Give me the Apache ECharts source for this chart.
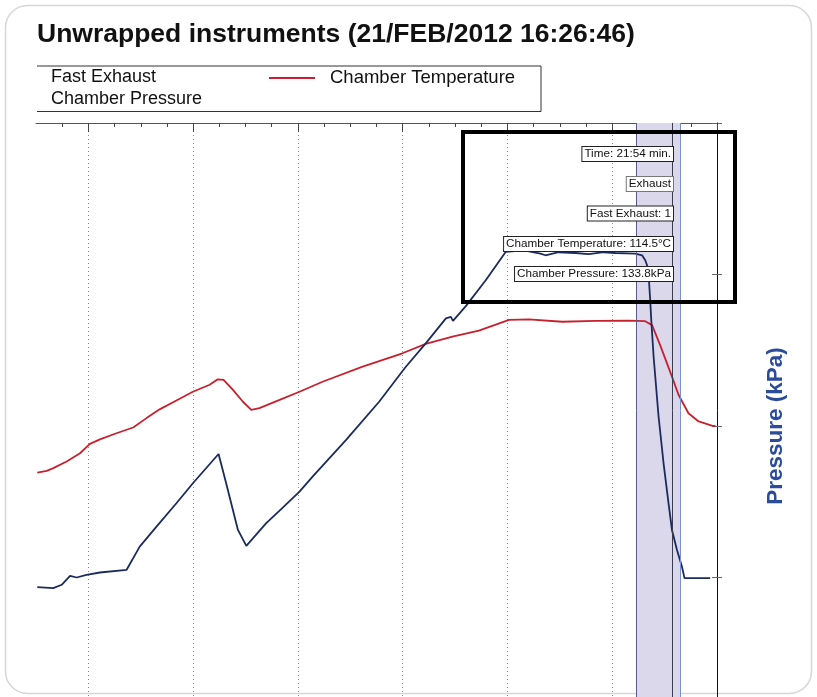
<!DOCTYPE html>
<html><head><meta charset="utf-8">
<script src="https://cdn.jsdelivr.net/npm/echarts@6/dist/echarts.min.js"></script>
<style>html,body{margin:0;padding:0;background:#fff}#c{width:817px;height:697px}</style>
</head><body><div id="c"></div>
<script>
// ---- data ----
const titleText = 'Unwrapped instruments (21/FEB/2012 16:26:46)';
const nameFast = 'Fast Exhaust';
const nameTemp = 'Chamber Temperature';
const namePress = 'Chamber Pressure';

// elapsed time units on the (unlabelled) time axis
const pressureTime = [0.05,0.66,0.98,1.30,1.55,1.93,2.44,3.46,3.96,4.60,5.36,5.99,6.97,7.26,7.71,8.03,8.79,9.30,10.06,10.56,11.84,13.10,14.12,14.88,15.65,15.84,15.92,16.41,17.17,17.93,18.63,19.26,19.45,19.96,20.60,21.10,21.68,22.12,22.88,23.14,23.26,23.33,23.39,23.45,23.49,23.58,23.77,23.96,24.15,24.28,24.47,24.66,24.76,25.74];
const pressureKPa = [93.7,93.0,95.2,101.1,100.0,101.8,103.3,105.1,120.4,133.6,149.0,162.2,181.5,162.2,131.4,120.9,135.9,144.2,156.7,166.6,190.8,216.0,239.1,254.5,271.0,272.0,269.4,279.1,296.2,314.9,316.0,313.8,312.7,314.7,314.2,313.4,314.7,314.2,313.8,312.7,309.4,306.1,299.5,283.1,269.9,245.7,206.1,175.4,149.0,131.4,118.3,107.3,99.6,99.6];

const temperatureTime = [0.05,0.41,0.66,1.17,1.68,2.06,2.44,3.07,3.71,4.22,4.72,5.36,5.99,6.63,6.94,7.16,7.52,7.90,8.22,8.53,9.30,10.06,10.94,12.47,13.99,14.88,15.90,16.91,18.06,18.82,20.09,21.36,22.63,23.26,23.52,23.83,24.28,24.53,24.91,25.30,25.80,25.94];
const temperatureC = [84.6,85.2,86.1,88.3,91.0,94.1,95.6,97.6,99.5,102.6,105.5,108.4,111.3,113.6,115.4,115.2,111.9,108.0,105.3,105.9,108.6,111.3,114.6,119.6,124.0,127.1,129.5,131.5,135.0,135.2,134.4,134.7,134.8,134.6,133.3,126.7,116.3,110.3,104.2,101.5,100.1,100.0];

const majorTicks = [2,6,10,14,18,22,26];
const minorTicks = [1,3,4,5,7,8,9,11,12,13,15,16,17,19,20,21,23,24,25];

const exhaustStart = 22.93;
const cursorTime = 24.30;
const fastExhaustEnd = 24.61;

const cursorTimeText = '21:54';
const cursorPhase = 'Exhaust';
const cursorFastExhaust = 1;
const cursorTemperature = 114.5;
const cursorPressure = 133.8;

// ---- chart ----
const FONT = '"Liberation Sans", Arial, sans-serif';
const zip = (a, b) => a.map((v, i) => [v, b[i]]);

const labelTexts = [
  'Time: ' + cursorTimeText + ' min.',
  cursorPhase,
  nameFast + ': ' + cursorFastExhaust,
  nameTemp + ': ' + cursorTemperature.toFixed(1) + '°C',
  namePress + ': ' + cursorPressure.toFixed(1) + 'kPa'
];
const labelY = [154, 184, 213.5, 244, 274];

const chart = echarts.init(document.getElementById('c'), null, {renderer: 'canvas'});
chart.setOption({
  animation: false,
  backgroundColor: '#fff',
  title: {
    text: titleText, left: 37, top: 21, padding: 0,
    textStyle: {fontFamily: FONT, fontSize: 26.5, fontWeight: 'bold', color: '#111'}
  },
  legend: [
    {
      data: [nameFast, namePress], orient: 'vertical', left: 46, top: 68.5, padding: 0,
      itemWidth: 0, itemHeight: 0, itemGap: 3.5, icon: 'rect', selectedMode: false,
      textStyle: {fontFamily: FONT, fontSize: 18, color: '#111'}
    },
    {
      data: [nameTemp], left: 269, top: 68.5, padding: 0,
      itemWidth: 46, itemHeight: 2, icon: 'rect', selectedMode: false,
      textStyle: {fontFamily: FONT, fontSize: 18.5, color: '#111', padding: [0, 0, 0, 10]}
    }
  ],
  grid: {left: 36, right: 100, top: 123, height: 606, containLabel: false, outerBoundsMode: 'none'},
  xAxis: [
    {
      type: 'value', position: 'top', min: 0, max: 26,
      axisLine: {show: true, onZero: false, lineStyle: {color: '#555', width: 1}},
      axisTick: {show: true, inside: true, length: 9, customValues: majorTicks, lineStyle: {color: '#444'}},
      axisLabel: {show: false},
      splitLine: {show: true, lineStyle: {type: [1, 3], color: '#8a8a8a', width: 1}}
    },
    {
      type: 'value', position: 'top', min: 0, max: 26,
      axisLine: {show: false, onZero: false},
      axisTick: {show: true, inside: true, length: 4, customValues: minorTicks, lineStyle: {color: '#444'}},
      axisLabel: {show: false},
      splitLine: {show: false}
    }
  ],
  yAxis: [
    {
      type: 'value', position: 'right', min: 0, max: 400, interval: 100,
      axisLine: {show: true, onZero: false, lineStyle: {color: '#111', width: 1}},
      axisTick: {show: true, length: 5, lineStyle: {color: '#666'}},
      axisLabel: {show: false},
      splitLine: {show: false},
      name: 'Pressure (kPa)', nameLocation: 'middle', nameGap: 47, nameRotate: 90,
      nameTextStyle: {fontFamily: FONT, fontSize: 22.5, fontWeight: 'bold', color: '#2b4c9b'}
    },
    {
      type: 'value', position: 'right', min: 0, max: 400, interval: 100,
      axisLine: {show: false, onZero: false},
      axisTick: {show: true, inside: true, length: 5, lineStyle: {color: '#666'}},
      axisLabel: {show: false},
      splitLine: {show: false}
    },
    {
      type: 'value', position: 'left', min: 0, max: 200, show: false,
      axisLine: {onZero: false}
    }
  ],
  series: [
    {
      name: nameFast, type: 'line', data: [], yAxisIndex: 0, color: '#1c2b5e'
    },
    {
      name: nameTemp, type: 'line', yAxisIndex: 2, showSymbol: false, symbol: 'none',
      data: zip(temperatureTime, temperatureC),
      color: '#c8202e', lineStyle: {color: '#c8202e', width: 1.8}, z: 3
    },
    {
      name: namePress, type: 'line', yAxisIndex: 0, showSymbol: false, symbol: 'none',
      data: zip(pressureTime, pressureKPa),
      color: '#1c2b5e', lineStyle: {color: '#1c2b5e', width: 1.8}, z: 4,
      markArea: {
        silent: true,
        itemStyle: {color: '#dcd8ec'},
        data: [
          [{xAxis: exhaustStart}, {xAxis: cursorTime}],
          [{xAxis: cursorTime}, {xAxis: fastExhaustEnd}]
        ]
      },
      markLine: {
        silent: true, symbol: 'none', label: {show: false},
        data: [
          {xAxis: exhaustStart, lineStyle: {color: '#5a5a8a', type: 'solid', width: 1}},
          {xAxis: cursorTime, lineStyle: {color: '#3c3c50', type: 'solid', width: 1}},
          {xAxis: fastExhaustEnd, lineStyle: {color: '#7a8ed0', type: 'solid', width: 1}}
        ]
      }
    }
  ],
  graphic: [
    {type: 'rect', z: -1, shape: {x: 5.5, y: 5.5, width: 806, height: 688, r: 22},
     style: {fill: 'none', stroke: '#d6d6d6', lineWidth: 1.5}},
    {type: 'polyline', z: 10, shape: {points: [[37, 66], [541, 66], [541, 111.5], [37, 111.5]]},
     style: {fill: 'none', stroke: '#333', lineWidth: 1}},
    {type: 'rect', z: 50, shape: {x: 463, y: 132, width: 272, height: 170},
     style: {fill: 'none', stroke: '#000', lineWidth: 4}}
  ].concat(labelTexts.map((t, i) => ({
    type: 'text', z: 60,
    style: {
      text: t, x: 673, y: labelY[i], align: 'right', verticalAlign: 'middle',
      fontSize: 11.7, fontFamily: FONT, fill: '#111',
      backgroundColor: '#fff', borderColor: i === 1 ? '#777' : '#222', borderWidth: 1,
      padding: [1, 2, 1, 2]
    }
  })))
});
</script>
</body></html>
